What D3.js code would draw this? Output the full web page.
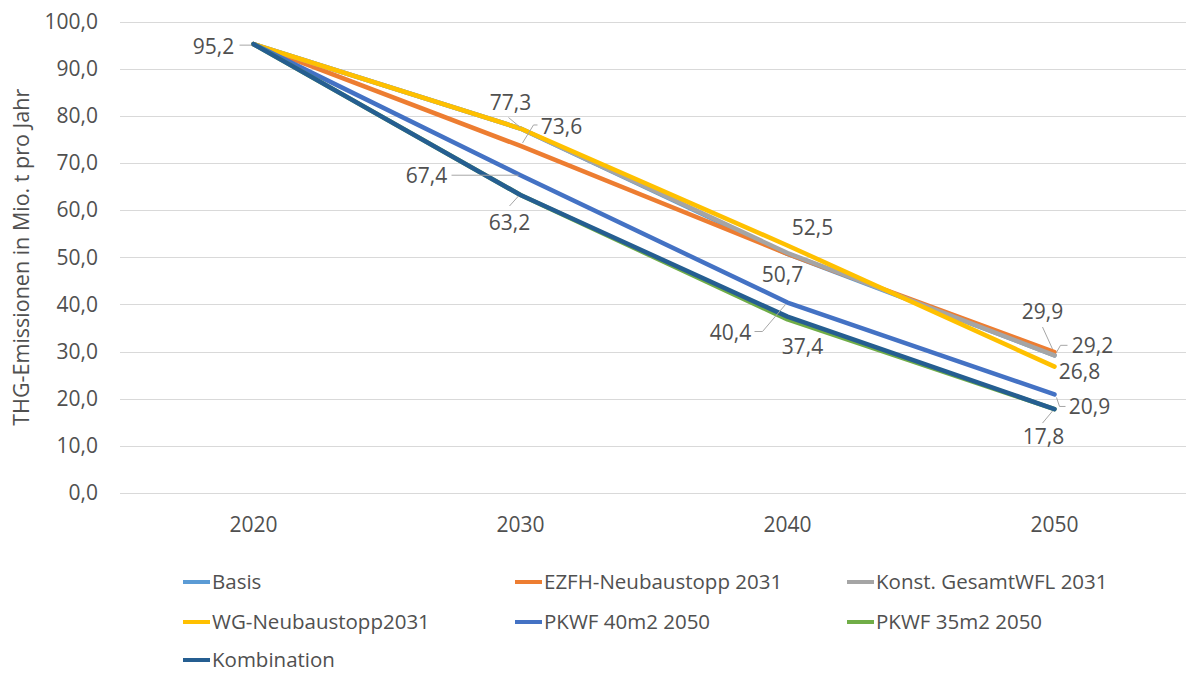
<!DOCTYPE html>
<html>
<head>
<meta charset="utf-8">
<script src="https://cdn.jsdelivr.net/npm/d3@7"></script>
<style>
  body { margin: 0; background: #fff; }
  svg text { font-family: "Open Sans", sans-serif; fill: #505050; }
</style>
</head>
<body>
<script>
// data
const years = ["2020", "2030", "2040", "2050"]
const seriesNames = ["Basis", "EZFH-Neubaustopp 2031", "Konst. GesamtWFL 2031",
  "WG-Neubaustopp2031", "PKWF 40m2 2050", "PKWF 35m2 2050", "Kombination"]
const seriesColors = ["#5B9BD5", "#ED7D31", "#A5A5A5", "#FFC000", "#4472C4", "#70AD47", "#255E91"]

const basis       = [95.2, 77.3, 50.7, 29.2]
const ezfh        = [95.2, 73.6, 50.7, 29.9]
const konst       = [95.2, 77.3, 50.9, 29.2]
const wg          = [95.2, 77.3, 52.5, 26.8]
const pkwf40      = [95.2, 67.4, 40.4, 20.9]
const pkwf35      = [95.2, 63.2, 36.8, 17.8]
const kombination = [95.2, 63.2, 37.4, 17.8]
const seriesValues = [basis, ezfh, konst, wg, pkwf40, pkwf35, kombination]

const yTicks = [0, 10, 20, 30, 40, 50, 60, 70, 80, 90, 100]

// data labels: series index, year index, text offset, leader points (relative to point)
const labels = [
  {s: 6, i: 0, dx: -40, dy: 3, lead: [[-14, 1], [-2, 1]]},
  {s: 3, i: 1, dx: -10, dy: -26, lead: [[-12, -11], [0, -1]]},
  {s: 1, i: 1, dx: 41, dy: -19, lead: [[17, -21], [13, -21], [2, -3]]},
  {s: 4, i: 1, dx: -94, dy: 0, lead: [[-69, 0], [-2, 0]]},
  {s: 6, i: 1, dx: -11, dy: 28, lead: [[-11, 11], [-2, 1]]},
  {s: 3, i: 2, dx: 25, dy: -18, lead: null},
  {s: 1, i: 2, dx: -5, dy: 21, lead: null},
  {s: 4, i: 2, dx: -57, dy: 30, lead: [[-33, 29], [-25, 29], [-2, 2]]},
  {s: 6, i: 2, dx: 15, dy: 30, lead: null},
  {s: 1, i: 3, dx: -12, dy: -40, lead: [[-12, -25], [-2, -3]]},
  {s: 2, i: 3, dx: 38, dy: -10, lead: [[2, -3], [6, -10], [13, -10]]},
  {s: 3, i: 3, dx: 25, dy: 5, lead: null},
  {s: 4, i: 3, dx: 35, dy: 12, lead: [[2, 3], [5, 12], [11, 12]]},
  {s: 6, i: 3, dx: -11, dy: 28, lead: [[-2, 2], [-12, 14]]}
]

const width = 1186
const height = 673
const plot = {left: 120, right: 1188, top: 21.5, bottom: 493}

const fmt = v => d3.format(".1f")(v).replace(".", ",")

const svg = d3.select("body").append("svg")
  .attr("width", width)
  .attr("height", height)

const x = d3.scalePoint()
  .domain(years)
  .range([plot.left, plot.right])
  .padding(0.5)

const y = d3.scaleLinear()
  .domain([0, 100])
  .range([plot.bottom, plot.top])

// grid
svg.append("g")
  .selectAll("line")
  .data(yTicks)
  .enter()
  .append("line")
  .attr("x1", plot.left)
  .attr("x2", width)
  .attr("y1", d => Math.round(y(d)) + 0.5)
  .attr("y2", d => Math.round(y(d)) + 0.5)
  .attr("stroke", "#d9d9d9")
  .attr("stroke-width", 1)

// y tick labels
svg.append("g")
  .selectAll("text")
  .data(yTicks)
  .enter()
  .append("text")
  .attr("x", 98)
  .attr("y", d => y(d))
  .attr("dy", "0.35em")
  .attr("text-anchor", "end")
  .style("font-size", "21px")
  .text(d => fmt(d))

// x tick labels
svg.append("g")
  .selectAll("text")
  .data(years)
  .enter()
  .append("text")
  .attr("x", d => x(d))
  .attr("y", 525)
  .attr("dy", "0.35em")
  .attr("text-anchor", "middle")
  .style("font-size", "21px")
  .text(d => d)

// y axis title
svg.append("text")
  .attr("transform", "translate(21," + (plot.top + plot.bottom) / 2 + ") rotate(-90)")
  .attr("dy", "0.35em")
  .attr("text-anchor", "middle")
  .style("font-size", "21.5px")
  .text("THG-Emissionen in Mio. t pro Jahr")

// lines
const line = d3.line()
  .x((d, i) => x(years[i]))
  .y(d => y(d))

svg.append("g")
  .selectAll("path")
  .data(seriesValues)
  .enter()
  .append("path")
  .attr("d", d => line(d))
  .attr("fill", "none")
  .attr("stroke", (d, i) => seriesColors[i])
  .attr("stroke-width", 4.5)
  .attr("stroke-linejoin", "round")
  .attr("stroke-linecap", "round")

// data labels
const lg = svg.append("g")
labels.forEach(l => {
  const px = x(years[l.i])
  const py = y(seriesValues[l.s][l.i])
  if (l.lead) {
    lg.append("polyline")
      .attr("points", l.lead.map(p => (px + p[0]) + "," + (py + p[1])).join(" "))
      .attr("fill", "none")
      .attr("stroke", "#a6a6a6")
      .attr("stroke-width", 1)
  }
  lg.append("text")
    .attr("x", px + l.dx)
    .attr("y", py + l.dy)
    .attr("dy", "0.35em")
    .attr("text-anchor", "middle")
    .style("font-size", "21px")
    .text(fmt(seriesValues[l.s][l.i]))
})

// legend
const legendCols = [183, 515, 847]
const legendRows = [582, 622, 660]
const legend = svg.append("g")
  .selectAll("g")
  .data(seriesNames)
  .enter()
  .append("g")
  .attr("transform", (d, i) => "translate(" + legendCols[i % 3] + "," + legendRows[Math.floor(i / 3)] + ")")

legend.append("line")
  .attr("x1", 0)
  .attr("x2", 27)
  .attr("stroke", (d, i) => seriesColors[i])
  .attr("stroke-width", 4)

legend.append("text")
  .attr("x", 29)
  .attr("dy", "0.35em")
  .style("font-size", "20.5px")
  .text(d => d)
</script>
</body>
</html>
